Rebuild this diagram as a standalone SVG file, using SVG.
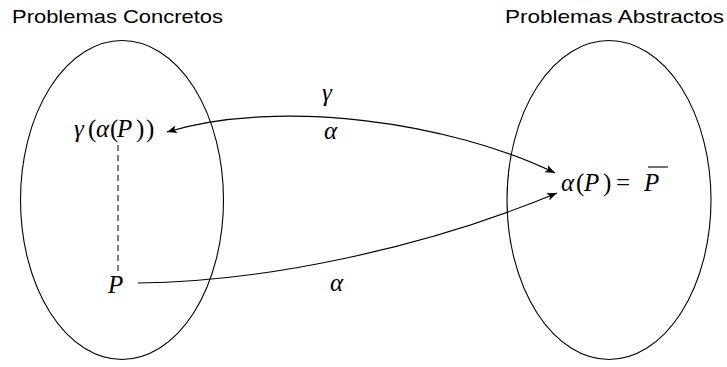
<svg xmlns="http://www.w3.org/2000/svg" width="727" height="367" viewBox="0 0 727 367">
<style>
.title{font-family:"Liberation Sans","DejaVu Sans",sans-serif;font-size:19px;fill:#000}
.m{font-family:"Liberation Serif","DejaVu Serif",serif;font-size:25px;fill:#000}
.i{font-style:italic}
.shape{fill:none;stroke:#000;stroke-width:1.1}
.con{fill:none;stroke:#000;stroke-width:1.1}
.dash{fill:none;stroke:#000;stroke-width:1;stroke-dasharray:6,4}
</style>
<defs>
<marker id="ah" viewBox="0 0 10 8" refX="10" refY="4" markerWidth="10" markerHeight="8" markerUnits="userSpaceOnUse" orient="auto-start-reverse">
<path d="M0,0 L10,4 L0,8 L2.5,4 Z" fill="#000"/>
</marker>
</defs>
<g id="concretos">
<ellipse class="shape" cx="122" cy="200" rx="101.5" ry="159.5"/>
<text class="title" x="12" y="23" textLength="211" lengthAdjust="spacingAndGlyphs">Problemas Concretos</text>
</g>
<g id="abstractos">
<ellipse class="shape" cx="609" cy="200" rx="102" ry="159.5"/>
<text class="title" x="505" y="23" textLength="219" lengthAdjust="spacingAndGlyphs">Problemas Abstractos</text>
</g>
<g id="gap">
<text class="m" y="137"><tspan class="i" x="74">γ</tspan><tspan x="88">(</tspan><tspan class="i" x="96">α</tspan><tspan x="110">(</tspan><tspan class="i" x="117">P</tspan><tspan x="136">)</tspan><tspan x="146">)</tspan></text>
</g>
<g id="p">
<text class="m i" x="108" y="293">P</text>
</g>
<g id="ap">
<text class="m" y="191"><tspan class="i" x="561">α</tspan><tspan x="576">(</tspan><tspan class="i" x="584">P</tspan><tspan x="603">)</tspan><tspan x="616">=</tspan><tspan class="i" x="644">P</tspan></text>
<line x1="648" y1="167" x2="668" y2="167" stroke="#000" stroke-width="1.1"/>
</g>
<g id="connectors">
<line class="dash" x1="118" y1="145" x2="118" y2="272"/>
<path class="con" d="M555,173 C450,122 280,98 167,132" marker-start="url(#ah)" marker-end="url(#ah)"/>
<path class="con" d="M138,283 C260,282 420,250 557,193" marker-end="url(#ah)"/>
<text class="m i" x="322" y="101">γ</text>
<text class="m i" x="324" y="139">α</text>
<text class="m i" x="330" y="291">α</text>
</g>
</svg>
